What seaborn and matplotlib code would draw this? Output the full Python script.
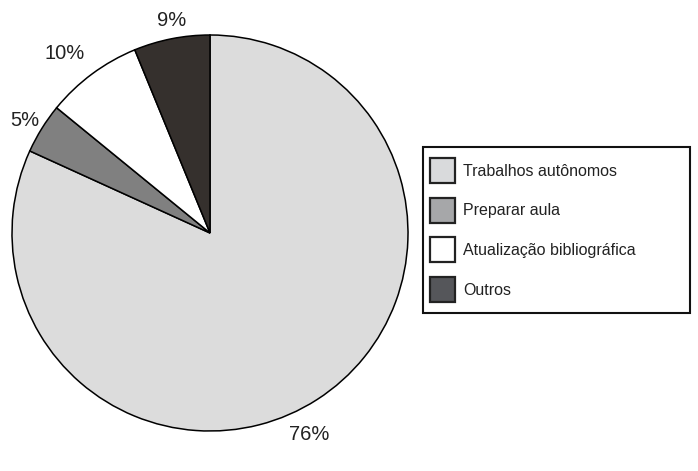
import numpy as np
import pandas as pd
import matplotlib
matplotlib.use("Agg")
import matplotlib.pyplot as plt
import seaborn as sns
from matplotlib.patches import Patch, Rectangle

sns.set_theme(style="white")
plt.rcParams['font.family'] = ['Liberation Sans', 'DejaVu Sans']

# data (wedge sizes as drawn, labels as printed)
categories = ["Trabalhos autônomos", "Preparar aula", "Atualização bibliográfica", "Outros"]
shares = [81.8, 4.1, 7.9, 6.2]
pct_labels = ["76%", "5%", "10%", "9%"]

pie_colors = ["#dcdcdc", "#808080", "#ffffff", "#35302d"]
legend_colors = ["#d9dadc", "#a6a7a9", "#ffffff", "#55565a"]

df = pd.DataFrame({"cat": categories, "share": shares, "lab": pct_labels})

W, H = 698, 471
fig = plt.figure(figsize=(W / 100, H / 100), dpi=100)
ax = fig.add_axes([0, 0, 1, 1])

# pie centre / radius in pixels
cx, cy, r = 210, 233, 198

wedges, texts = ax.pie(df["share"], labels=df["lab"], colors=pie_colors,
                       startangle=90, counterclock=False, labeldistance=1.12,
                       wedgeprops=dict(edgecolor="black", linewidth=1.1),
                       textprops=dict(fontsize=14.5, color="#222222"))

ax.set_aspect("auto")
ax.set_xlim(-cx / r, (W - cx) / r)
ax.set_ylim(-(H - cy) / r, cy / r)
ax.axis("off")

# label placement (pixel positions from the reference)
label_px = [(309, 434), (25, 120), (65, 53), (172, 20)]
for t, (px, py) in zip(texts, label_px):
    t.set_position(((px - cx) / r, (cy - py) / r))
    t.set_ha("center")
    t.set_va("center")

# legend box drawn separately so the padding can be uneven like the original
fig.patches.append(Rectangle((423 / W, (H - 313) / H), (690 - 423) / W, (313 - 147) / H,
                             transform=fig.transFigure, facecolor="white",
                             edgecolor="#111111", linewidth=1.5, zorder=0))

handles = [Patch(facecolor=c, edgecolor="#222222", linewidth=1.6) for c in legend_colors]
leg = fig.legend(handles, categories, loc="upper left",
                 bbox_to_anchor=(430 / W, (H - 158) / H),
                 bbox_transform=fig.transFigure,
                 borderaxespad=0, borderpad=0, fontsize=11.5, frameon=False,
                 handlelength=1.56, handleheight=2.03, handletextpad=0.5,
                 labelspacing=0.92)
for t in leg.get_texts():
    t.set_color("#222222")

fig.savefig("out.png", dpi=100)
